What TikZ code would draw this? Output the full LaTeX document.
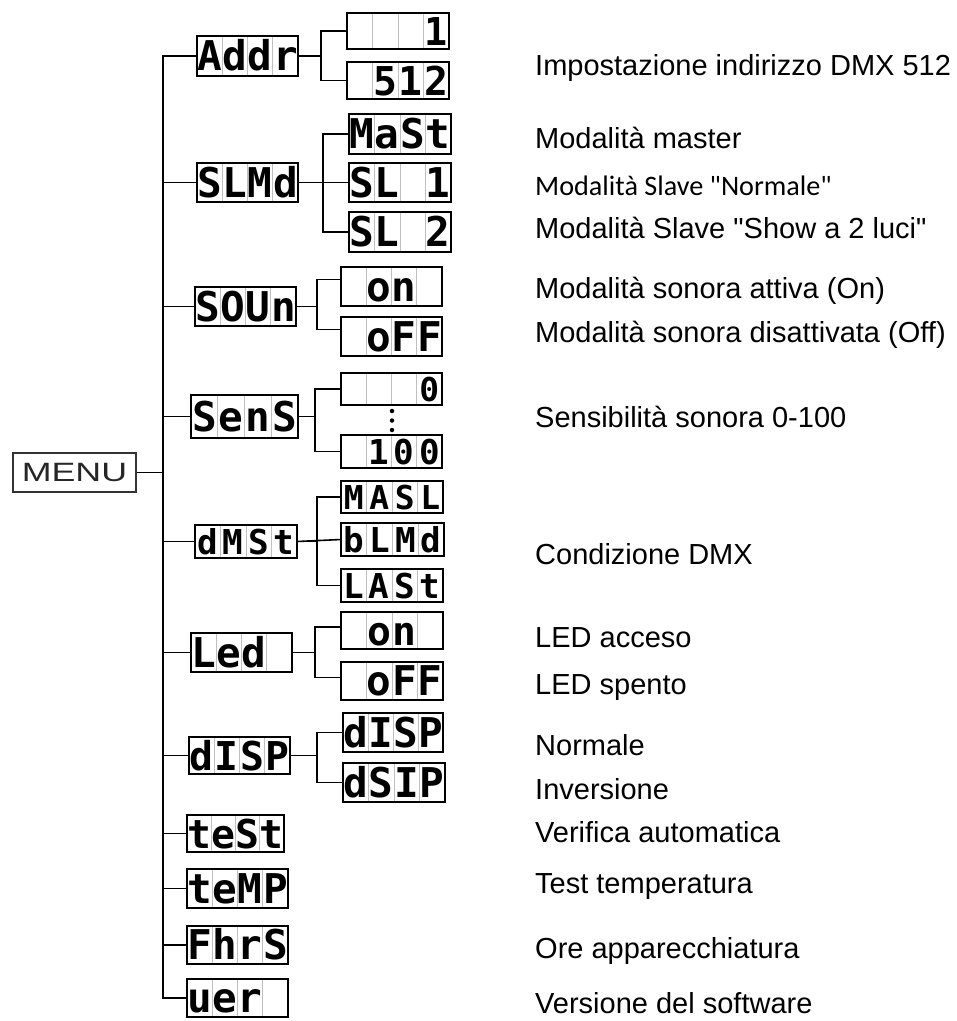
\documentclass[tikz,border=0pt]{standalone}
\usepackage{fontspec}
\setmainfont{Liberation Sans}
\newfontfamily\descfont{Liberation Sans}[Ligatures=TeXOff]
\newfontfamily\segfont{DejaVu Sans Mono}
\newfontfamily\menufont{Liberation Sans}[FakeStretch=1.35]
\newfontfamily\carlito{Carlito}
\usetikzlibrary{calc}
\tikzset{
  conn/.style={draw=black, line width=1.6pt},
  divider/.style={draw=black!25, line width=0.9pt},
  disp/.style={draw=black, line width=1.5pt, inner sep=0pt, outer sep=0pt,
    path picture={
      \foreach \i in {1,2,3}{
        \draw[divider] ($(path picture bounding box.north west)!\i/4!(path picture bounding box.north east)$)
          -- ($(path picture bounding box.south west)!\i/4!(path picture bounding box.south east)$);
      }
    }},
  desc/.style={anchor=base west, inner sep=0pt, font=\descfont\fontsize{29}{29}\selectfont},
  dot/.style={circle, fill=black, inner sep=0pt, minimum size=4.5pt},
}
\newcommand\segchars[4]{\makebox[\segcw pt]{#1}\makebox[\segcw pt]{#2}\makebox[\segcw pt]{#3}\makebox[\segcw pt]{#4}}
\newcommand\segbox[5]{%
  \pgfmathsetmacro\segfs{min(41,(#4-8)/0.73)}%
  \pgfmathsetmacro\segcw{#3/4}%
  \pgfmathsetmacro\segth{0.73*\segfs}%
  \node[disp, minimum width=#3pt, minimum height=#4pt, text height=\segth pt, text depth=0pt,
    font=\segfont\bfseries\fontsize{\segfs pt}{\segfs pt}\selectfont] (#1) at (#2) {\segchars#5};
}
\begin{document}
\begin{tikzpicture}[x=1pt, y=-1pt]
\useasboundingbox (0,0) rectangle (957,1021);

% MENU
\node[draw=black!80, line width=1.2pt, minimum width=123pt, minimum height=39pt, inner sep=0pt,
  text=black!85, font=\menufont\fontsize{26.5}{26.5}\selectfont] (menu) at (74.5,472.5) {MENU};

% level 1
\segbox{addr}{247.5,56}{101}{40}{{A}{d}{d}{r}}
\segbox{slmd}{247.5,182.5}{101}{39}{{S}{L}{M}{d}}
\segbox{soun}{245.5,306.5}{101}{39}{{S}{O}{U}{n}}
\segbox{sens}{244.5,416.5}{107}{43}{{S}{e}{n}{S}}
\segbox{dmst}{246,541.5}{102}{33}{{d}{M}{S}{t}}
\segbox{led}{241.5,652.5}{101}{39}{{L}{e}{d}{}}
\segbox{disp}{239.5,755.5}{101}{37}{{d}{I}{S}{P}}
\segbox{test}{235.5,833.5}{97}{37}{{t}{e}{S}{t}}
\segbox{temp}{237.5,888.5}{101}{39}{{t}{e}{M}{P}}
\segbox{fhrs}{237.5,945}{101}{38}{{F}{h}{r}{S}}
\segbox{uer}{237.5,998}{101}{38}{{u}{e}{r}{}}

% level 2
\segbox{a1}{398,31}{102}{36}{{}{}{}{1}}
\segbox{a2}{398,80.5}{102}{37}{{}{5}{1}{2}}
\segbox{s1}{400,134}{102}{40}{{M}{a}{S}{t}}
\segbox{s2}{400,182.5}{102}{39}{{S}{L}{}{1}}
\segbox{s3}{400,232}{102}{40}{{S}{L}{}{2}}
\segbox{o1}{391.5,286.5}{101}{39}{{}{o}{n}{}}
\segbox{o2}{391.5,336.5}{101}{39}{{}{o}{F}{F}}
\segbox{n1}{391.5,389}{101}{32}{{}{}{}{0}}
\segbox{n2}{391.5,451.5}{101}{33}{{}{1}{0}{0}}
\segbox{d1}{392,497}{102}{32}{{M}{A}{S}{L}}
\segbox{d2}{392.5,539.5}{103}{33}{{b}{L}{M}{d}}
\segbox{d3}{392,585.5}{102}{33}{{L}{A}{S}{t}}
\segbox{l1}{392,630.5}{102}{37}{{}{o}{n}{}}
\segbox{l2}{392,681}{102}{38}{{}{o}{F}{F}}
\segbox{p1}{393,732.5}{100}{39}{{d}{I}{S}{P}}
\segbox{p2}{394,782.5}{102}{39}{{d}{S}{I}{P}}

% dots between 0 and 100
\node[dot] (dt1) at (392,411) {};
\node[dot] (dt2) at (392,420.5) {};
\node[dot] (dt3) at (392,430) {};

% trunk
\coordinate (trunk) at (163,56);
\draw[conn] (addr.west) -- (addr.west -| trunk) -- (uer.west -| trunk) -- (uer.west);
\draw[conn] (menu.east) -- (menu.east -| trunk);
\foreach \n in {slmd,soun,sens,dmst,led,disp,test,temp,fhrs}
  \draw[conn] (\n.west -| trunk) -- (\n.west);

% branches
\draw[conn] (addr.east) -| ([xshift=-26pt]a1.west) -- (a1.west);
\draw[conn] (addr.east) -| ([xshift=-26pt]a2.west) -- (a2.west);
\draw[conn] (slmd.east) -| ([xshift=-26pt]s1.west) -- (s1.west);
\draw[conn] (slmd.east) -- (s2.west);
\draw[conn] (slmd.east) -| ([xshift=-26pt]s3.west) -- (s3.west);
\draw[conn] (soun.east) -| ([xshift=-24pt,yshift=7pt]o1.west) -- ([yshift=7pt]o1.west);
\draw[conn] (soun.east) -| ([xshift=-24pt,yshift=7pt]o2.west) -- ([yshift=7pt]o2.west);
\draw[conn] (sens.east) -| ([xshift=-26pt]n1.west) -- (n1.west);
\draw[conn] (sens.east) -| ([xshift=-26pt]n2.west) -- (n2.west);
\draw[conn] (dmst.east) -| ([xshift=-24pt]d1.west) -- (d1.west);
\draw[conn] (dmst.east) -- (d2.west);
\draw[conn] (dmst.east) -| ([xshift=-24pt]d3.west) -- (d3.west);
\draw[conn] (led.east) -| ([xshift=-26pt,yshift=3.5pt]l1.west) -- ([yshift=3.5pt]l1.west);
\draw[conn] (led.east) -| ([xshift=-26pt,yshift=3.5pt]l2.west) -- ([yshift=3.5pt]l2.west);
\draw[conn] (disp.east) -| ([xshift=-26pt]p1.west) -- (p1.west);
\draw[conn] (disp.east) -| ([xshift=-26pt]p2.west) -- (p2.west);

% descriptions
\node[desc] (t1) at (535,75) {Impostazione indirizzo DMX 512};
\node[desc] (t2) at (535,148) {Modalità master};
\node[desc, font=\carlito\fontsize{28.2}{28.2}\selectfont] (t3) at (535,195) {Modalità Slave "Normale"};
\node[desc] (t4) at (535,238) {Modalità Slave "Show a 2 luci"};
\node[desc] (t5) at (535,298) {Modalità sonora attiva (On)};
\node[desc] (t6) at (535,342) {Modalità sonora disattivata (Off)};
\node[desc] (t7) at (535,427) {Sensibilità sonora 0-100};
\node[desc] (t8) at (535,564) {Condizione DMX};
\node[desc] (t9) at (535,647) {LED acceso};
\node[desc] (t10) at (535,694) {LED spento};
\node[desc] (t11) at (535,755) {Normale};
\node[desc] (t12) at (535,799) {Inversione};
\node[desc] (t13) at (535,842) {Verifica automatica};
\node[desc] (t14) at (535,893) {Test temperatura};
\node[desc] (t15) at (535,958) {Ore apparecchiatura};
\node[desc] (t16) at (535,1013) {Versione del software};
\end{tikzpicture}
\end{document}
